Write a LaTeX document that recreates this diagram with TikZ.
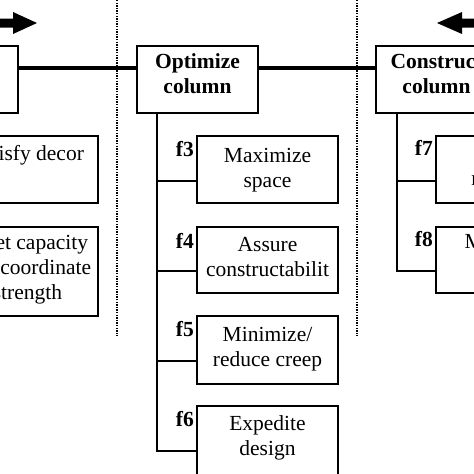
\documentclass[tikz,border=0pt]{standalone}
\usepackage{fontspec}
\setmainfont{Liberation Serif}
\usetikzlibrary{calc}
\begin{document}
\begin{tikzpicture}[x=1pt,y=-1pt,
  fbox/.style={draw,line width=2pt,minimum width=141pt,inner sep=0pt},
  hbox/.style={draw,line width=2pt,minimum width=121pt,minimum height=67pt,inner sep=0pt},
  txt/.style={font=\fontsize{21.5}{25}\selectfont,align=center,inner sep=0pt},
  htxt/.style={font=\fontsize{21.5}{25}\selectfont\bfseries,align=center,inner sep=0pt},
  lab/.style={font=\fontsize{21.5}{25}\selectfont\bfseries,inner sep=0pt,anchor=base east},
  conn/.style={line width=2pt},
  mainline/.style={line width=3.5pt},
  sepline/.style={line width=1.3pt,dash pattern=on 1.3pt off 1.3pt},
  bigarrow/.style={fill=black}
]
\useasboundingbox[fill=white] (0,0) rectangle (474,474);

% separators
\coordinate (s1t) at (117,0);
\coordinate (s1b) at (117,336);
\coordinate (s2t) at (357,0);
\coordinate (s2b) at (357,336);
\draw[sepline] (s1t) -- (s1b);
\draw[sepline] (s2t) -- (s2b);

% direction arrows
\fill[bigarrow] (-5,18.5) -- (13,18.5) -- (13,12) -- (37,23) -- (13,34) -- (13,27.5) -- (-5,27.5) -- cycle;
\fill[bigarrow] (480,18.5) -- (462,18.5) -- (462,12) -- (437,23) -- (462,34) -- (462,27.5) -- (480,27.5) -- cycle;

% header boxes
\node[hbox] (A) at (-42.5,79.5) {};
\node[hbox] (opt) at (197.5,79.5) {};
\node[hbox] (con) at (436.5,79.5) {};
\node[htxt] (optt) at (197.5,75.5) {\strut Optimize\\\strut column};
\node[htxt] (cont) at (436.5,75.5) {\strut Construct\\\strut column};

% main line
\coordinate (hl) at (0,68);
\draw[mainline] (A.east |- hl) -- (opt.west |- hl);
\draw[mainline] (opt.east |- hl) -- (con.west |- hl);

% left column boxes
\node[fbox,minimum height=67pt] (f1) at (27.5,169.5) {};
\node[fbox,minimum height=89pt] (f2) at (27.5,271.5) {};
\node[txt] (f1t) at (27.5,168) {\strut Satisfy decor\\\strut};
\node[txt] (f2t) at (27.5,269) {\strut Meet capacity\\\strut and coordinate\\\strut strength};

% middle column boxes
\node[fbox,minimum height=67pt] (f3) at (267.5,169.5) {};
\node[fbox,minimum height=66pt] (f4) at (267.5,260) {};
\node[fbox,minimum height=68pt] (f5) at (267.5,350) {};
\node[fbox,minimum height=84pt] (f6) at (267.5,448) {};
\node[txt] (f3t) at (267.5,169.5) {\strut Maximize\\\strut space};
\node[txt] (f4t) at (267.5,258.5) {\strut Assure\\\strut constructabilit};
\node[txt] (f5t) at (267.5,349) {\strut Minimize/\\\strut reduce creep};
\node[txt] (f6t) at (267.5,437.5) {\strut Expedite\\\strut design};

% right column boxes
\node[fbox,minimum height=67pt] (f7) at (506.5,169.5) {};
\node[fbox,minimum height=66pt] (f8) at (506.5,260) {};
\node[txt] (f7t) at (506.5,168) {\strut Ease\\\strut removal};
\node[txt] (f8t) at (506.5,256) {\strut Minimize\\\strut cost};

% labels
\node[lab] (l3) at ($(f3.north west)+(-2,21)$) {f3};
\node[lab] (l4) at ($(f4.north west)+(-2,22)$) {f4};
\node[lab] (l5) at ($(f5.north west)+(-2,21)$) {f5};
\node[lab] (l6) at ($(f6.north west)+(-2,21)$) {f6};
\node[lab] (l7) at ($(f7.north west)+(-2,20)$) {f7};
\node[lab] (l8) at ($(f8.north west)+(-2,20)$) {f8};

% trunks and branches
\coordinate (t1) at (-83,181);
\coordinate (t2) at (-83,271);
\draw[conn] (A.south -| t1) -- (t2) -- (t2 -| f2.west);
\draw[conn] (t1) -- (t1 -| f1.west);

\coordinate (t3) at (157,181);
\coordinate (t4) at (157,271);
\coordinate (t5) at (157,361);
\coordinate (t6) at (157,451);
\draw[conn] (opt.south -| t3) -- (t6) -- (t6 -| f6.west);
\draw[conn] (t3) -- (t3 -| f3.west);
\draw[conn] (t4) -- (t4 -| f4.west);
\draw[conn] (t5) -- (t5 -| f5.west);

\coordinate (t7) at (397,181);
\coordinate (t8) at (397,271);
\draw[conn] (con.south -| t7) -- (t8) -- (t8 -| f8.west);
\draw[conn] (t7) -- (t7 -| f7.west);
\end{tikzpicture}
\end{document}
